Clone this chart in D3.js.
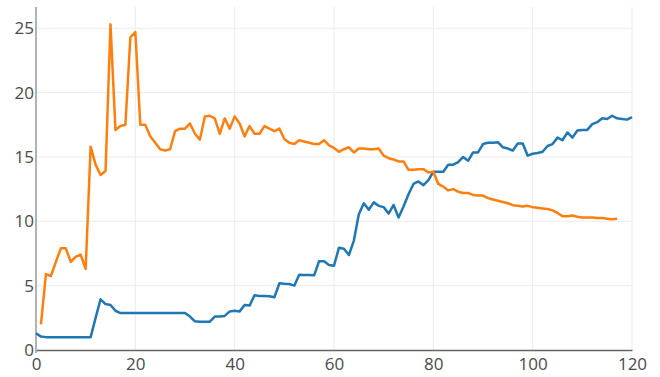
<!DOCTYPE html>
<html>
<head>
<meta charset="utf-8">
<script src="https://cdn.jsdelivr.net/npm/d3@7"></script>
<style>
  html, body { margin: 0; padding: 0; background: #fff; }
  svg { display: block; }
  .tick text { font-family: "Open Sans", sans-serif; font-size: 17px; fill: #4a4a4a; }
</style>
</head>
<body>
<svg id="chart" width="660" height="377"></svg>
<script>
// Blue series: one value per step, x = 0 .. 120
const blueValues = [
  1.3, 1.04, 1.0, 1.0, 1.0, 1.0, 1.0, 1.0, 1.0, 1.0,
  1.0, 1.0, 2.5, 3.94, 3.57, 3.5, 3.05, 2.87, 2.87, 2.87,
  2.87, 2.87, 2.87, 2.87, 2.87, 2.87, 2.87, 2.87, 2.87, 2.87,
  2.87, 2.6, 2.23, 2.2, 2.2, 2.2, 2.6, 2.6, 2.65, 3.0,
  3.05, 3.0, 3.5, 3.45, 4.25, 4.2, 4.2, 4.17, 4.1, 5.18,
  5.15, 5.13, 5.0, 5.85, 5.83, 5.83, 5.8, 6.9, 6.9, 6.6,
  6.55, 7.95, 7.87, 7.38, 8.5, 10.55, 11.4, 10.9, 11.47, 11.2,
  11.1, 10.6, 11.27, 10.3, 11.15, 12.1, 12.9, 13.1, 12.8, 13.2,
  13.85, 13.85, 13.85, 14.4, 14.4, 14.6, 15.0, 14.7, 15.35, 15.35,
  16.0, 16.1, 16.1, 16.15, 15.75, 15.65, 15.5, 16.05, 16.05, 15.1,
  15.25, 15.3, 15.4, 15.85, 16.0, 16.5, 16.3, 16.9, 16.5, 17.05,
  17.1, 17.1, 17.55, 17.7, 18.0, 17.95, 18.2, 18.0, 17.95, 17.9,
  18.1
];
const blueStart = 0;

// Orange series: one value per step, x = 1 .. 117
const orangeValues = [
  2.0, 5.9, 5.75, 6.85, 7.9, 7.9, 6.85, 7.25, 7.4, 6.3,
  15.8, 14.4, 13.6, 13.9, 25.3, 17.1, 17.4, 17.5, 24.3, 24.7,
  17.5, 17.5, 16.6, 16.1, 15.6, 15.5, 15.6, 17.0, 17.2, 17.2,
  17.6, 16.8, 16.35, 18.15, 18.2, 18.0, 16.8, 18.0, 17.2, 18.15,
  17.6, 16.6, 17.4, 16.8, 16.8, 17.4, 17.2, 17.0, 17.2, 16.4,
  16.1, 16.0, 16.3, 16.2, 16.1, 16.0, 16.0, 16.3, 15.9, 15.7,
  15.4, 15.6, 15.75, 15.35, 15.65, 15.65, 15.6, 15.6, 15.65, 15.1,
  14.9, 14.8, 14.65, 14.65, 14.0, 14.0, 14.05, 14.05, 13.8, 13.85,
  12.9, 12.7, 12.4, 12.5, 12.3, 12.2, 12.2, 12.05, 12.0, 12.0,
  11.8, 11.7, 11.6, 11.5, 11.4, 11.25, 11.2, 11.15, 11.2, 11.1,
  11.05, 11.0, 10.95, 10.85, 10.65, 10.4, 10.4, 10.45, 10.35, 10.3,
  10.3, 10.3, 10.25, 10.25, 10.2, 10.15, 10.2
];
const orangeStart = 1;

const xTicks = [0, 20, 40, 60, 80, 100, 120];
const yTicks = [0, 5, 10, 15, 20, 25];

const svg = d3.select("#chart");
const plot = { left: 36, right: 632, top: 7, bottom: 350 };

const x = d3.scaleLinear().domain([0, 120]).range([plot.left, plot.right]);
const y = d3.scaleLinear().domain([0, 26.65]).range([plot.bottom, plot.top]);

// grid
const grid = svg.append("g");
grid.selectAll("line.vg").data(xTicks.filter(d => d > 0)).join("line")
  .attr("x1", d => x(d)).attr("x2", d => x(d))
  .attr("y1", plot.top).attr("y2", plot.bottom)
  .attr("stroke", "#ebebeb").attr("stroke-width", 1);
grid.selectAll("line.hg").data(yTicks.filter(d => d > 0)).join("line")
  .attr("x1", plot.left).attr("x2", plot.right)
  .attr("y1", d => y(d)).attr("y2", d => y(d))
  .attr("stroke", "#ebebeb").attr("stroke-width", 1);

// axes
const xAxis = svg.append("g")
  .attr("transform", `translate(0,${plot.bottom})`)
  .call(d3.axisBottom(x).tickValues(xTicks).tickSize(0).tickPadding(8).tickFormat(d3.format("d")));
xAxis.select(".domain").attr("stroke", "#666").attr("stroke-width", 1.5);

const yAxis = svg.append("g")
  .attr("transform", `translate(${plot.left},0)`)
  .call(d3.axisLeft(y).tickValues(yTicks).tickSize(0).tickPadding(2).tickFormat(d3.format("d")));
yAxis.select(".domain").attr("stroke", "#999").attr("stroke-width", 1.5)
  .attr("d", `M0,${plot.top}V${plot.bottom + 3}`);

// lines
const line = d3.line().x(d => x(d[0])).y(d => y(d[1]));
const bluePts = blueValues.map((v, i) => [blueStart + i, v]);
const orangePts = orangeValues.map((v, i) => [orangeStart + i, v]);

svg.append("path").datum(bluePts)
  .attr("d", line).attr("fill", "none")
  .attr("stroke", "#1f77b4").attr("stroke-width", 2.5).attr("stroke-linejoin", "round");
svg.append("path").datum(orangePts)
  .attr("d", line).attr("fill", "none")
  .attr("stroke", "#ff7f0e").attr("stroke-width", 2.5).attr("stroke-linejoin", "round");
</script>
</body>
</html>
